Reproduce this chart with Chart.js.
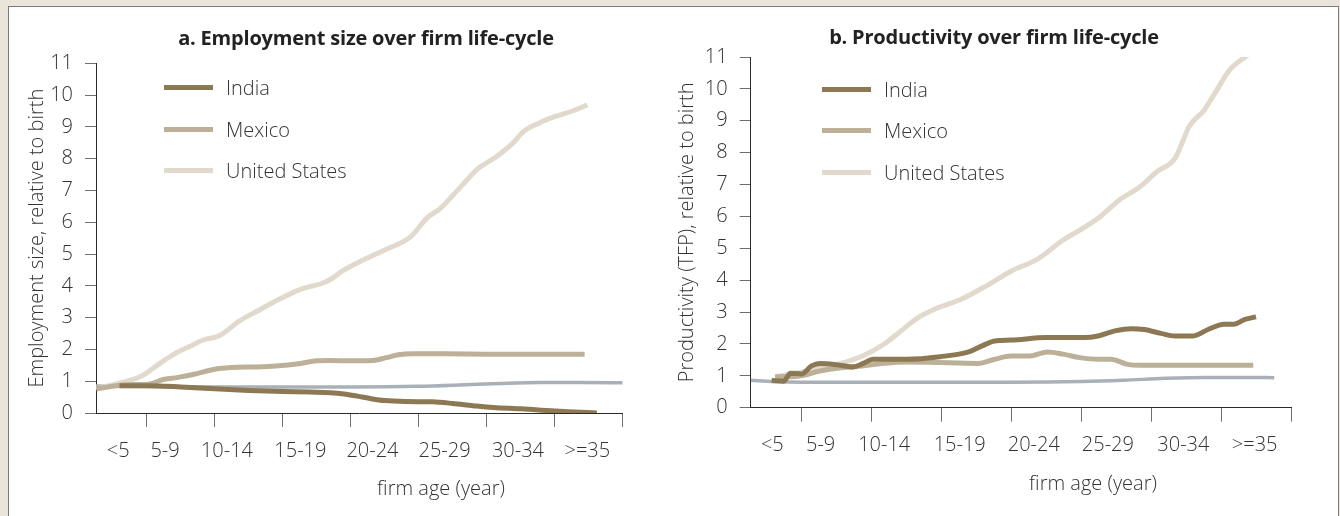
<!DOCTYPE html>
<html lang="en">
<head>
<meta charset="UTF-8">
<title>Employment size and productivity over firm life-cycle</title>
<script src="https://cdn.jsdelivr.net/npm/chart.js"></script>
<style>
  body {
    margin: 0;
    width: 1340px;
    height: 516px;
    overflow: hidden;
    position: relative;
    background: #ebe4da;
    font-family: 'Open Sans', sans-serif;
    color: #2e2e2e;
  }
  #frame {
    position: absolute;
    left: 8px;
    top: 6px;
    width: 1331px;
    height: 540px;
    box-sizing: border-box;
    background: #fff;
    border: 1px solid #7b7b7b;
  }
  .panel { position: absolute; top: 7px; height: 509px; }
  #pa { left: 9px; width: 661px; }
  #pb { left: 670px; width: 667px; }
  .ttl {
    position: absolute;
    width: 600px;
    text-align: center;
    font-weight: 700;
    font-size: 20px;
    line-height: 22px;
    color: #222;
    white-space: nowrap;
    letter-spacing: -0.2px;
  }
  .xttl {
    position: absolute;
    width: 300px;
    text-align: center;
    font-weight: 300;
    font-size: 20px;
    line-height: 24px;
    color: #333;
  }
  .legend { position: absolute; font-weight: 300; font-size: 20px; color: #333; }
  .legend .item { display: flex; align-items: center; height: 41.5px; white-space: nowrap; }
  .legend .swatch { display: inline-block; width: 49px; height: 5px; margin-right: 13px; }
</style>
</head>
<body>
<div id="frame"></div>
<div class="panel" id="pa"><canvas id="chartA"></canvas></div>
<div class="panel" id="pb"><canvas id="chartB"></canvas></div>

<div class="ttl" style="left:66px; top:27px;">a. Employment size over firm life-cycle</div>
<div class="ttl" style="left:694px; top:26px;">b. Productivity over firm life-cycle</div>
<div class="xttl" style="left:291px; top:476px;">firm age (year)</div>
<div class="xttl" style="left:943px; top:471px;">firm age (year)</div>
<div class="legend" id="legA" style="left:164px; top:67px;"></div>
<div class="legend" id="legB" style="left:822px; top:68.5px;"></div>

<script>
// x values are firm age in years, y values are relative to birth
const ageTicks = [5, 10, 15, 20, 25, 30, 35, 40];
const ageLabels = ['<5', '5-9', '10-14', '15-19', '20-24', '25-29', '30-34', '>=35'];
const valueTicks = [0, 1, 2, 3, 4, 5, 6, 7, 8, 9, 10, 11];
const seriesNames = ['India', 'Mexico', 'United States'];

// a. employment size
const empAgeIndia = [3.0, 5.0, 7.5, 10, 12.5, 15, 17, 18.5, 19.5, 20.5, 21.5, 22.5, 24, 26, 27.5, 29, 30.5, 32.5, 34, 36, 38.1];
const empIndia = [0.86, 0.86, 0.82, 0.76, 0.71, 0.68, 0.66, 0.64, 0.6, 0.53, 0.45, 0.39, 0.36, 0.35, 0.3, 0.23, 0.17, 0.13, 0.09, 0.04, 0.0];
const empAgeMexico = [1.3, 2.5, 3.5, 5.0, 5.5, 6.1, 7.3, 8.5, 9.9, 11.2, 13.1, 14.5, 16.3, 17.5, 18.5, 20.0, 21.6, 22.6, 23.5, 24.5, 27, 30, 34, 37.2];
const empMexico = [0.76, 0.84, 0.89, 0.9, 0.94, 1.04, 1.12, 1.22, 1.37, 1.43, 1.45, 1.48, 1.56, 1.64, 1.65, 1.64, 1.65, 1.74, 1.83, 1.86, 1.86, 1.85, 1.85, 1.85];
const empAgeUS = [1.3, 2.2, 3.3, 4.5, 5.2, 6.1, 7.2, 8.2, 9.3, 10.1, 10.6, 11.8, 13.1, 14.7, 16.3, 17.1, 17.7, 18.5, 19.4, 20.9, 22.5, 24.4, 25.6, 26.6, 28.1, 29.4, 30.7, 31.9, 32.7, 33.8, 35.0, 36.3, 37.4];
const empUS = [0.75, 0.86, 0.97, 1.14, 1.32, 1.6, 1.9, 2.1, 2.32, 2.39, 2.5, 2.89, 3.2, 3.57, 3.89, 3.99, 4.05, 4.2, 4.47, 4.81, 5.13, 5.54, 6.13, 6.44, 7.12, 7.7, 8.06, 8.48, 8.85, 9.11, 9.32, 9.5, 9.69];
const empAgeBase = [1.27, 5, 10, 15, 20, 25, 28, 31, 34, 37, 40];
const empBase = [0.85, 0.83, 0.82, 0.82, 0.82, 0.84, 0.88, 0.93, 0.96, 0.96, 0.95];

// b. productivity (TFP)
const prodAgeIndia = [2.85, 3.7, 4.2, 5.0, 5.7, 6.3, 7.5, 8.7, 9.4, 10.1, 12.5, 14.9, 17.0, 17.9, 18.8, 20.0, 22.5, 23.7, 25.2, 26.2, 27.4, 28.6, 29.5, 30.7, 31.7, 33.0, 34.1, 35.2, 35.9, 36.7, 37.5];
const prodIndia = [0.85, 0.83, 1.08, 1.06, 1.31, 1.39, 1.35, 1.28, 1.39, 1.52, 1.52, 1.6, 1.76, 1.94, 2.09, 2.12, 2.2, 2.2, 2.2, 2.25, 2.41, 2.48, 2.45, 2.33, 2.25, 2.25, 2.46, 2.62, 2.62, 2.77, 2.85];
const prodAgeMexico = [3.1, 4.76, 6.3, 7.8, 9.3, 10.9, 12.4, 15.5, 17.6, 18.8, 20.0, 21.3, 22.6, 23.7, 24.9, 26.2, 27.1, 28.3, 29.2, 33, 37.3];
const prodMexico = [0.97, 0.99, 1.15, 1.25, 1.31, 1.39, 1.43, 1.41, 1.39, 1.52, 1.62, 1.62, 1.75, 1.68, 1.57, 1.52, 1.52, 1.36, 1.33, 1.33, 1.33];
const prodAgeUS = [3.1, 4.76, 6.28, 7.8, 9.34, 10.87, 12.1, 13.3, 14.5, 16.4, 18.2, 20.0, 21.9, 23.7, 24.9, 26.2, 27.7, 29.2, 30.4, 31.7, 32.3, 32.7, 33.8, 34.7, 35.6, 37.0];
const prodUS = [0.97, 1.1, 1.25, 1.39, 1.62, 1.99, 2.41, 2.82, 3.09, 3.4, 3.82, 4.29, 4.67, 5.26, 5.57, 5.94, 6.51, 6.93, 7.4, 7.82, 8.4, 8.81, 9.34, 9.97, 10.59, 11.09];
const prodAgeBase = [1.35, 3, 5, 10, 15, 20, 25, 28, 31, 34, 37, 38.8];
const prodBase = [0.86, 0.82, 0.8, 0.8, 0.8, 0.8, 0.82, 0.86, 0.92, 0.95, 0.95, 0.94];

const colors = ['#8c7853', '#bcb098', '#e0d9cc'];
const baseColor = '#aab0b7';
const textColor = '#333';
const tickFont = { family: "'Open Sans', sans-serif", size: 20, weight: '300' };

// where the category names sit along the age axis
const labelCentres = [2.9, 6.35, 10.9, 16.3, 21.6, 26.9, 32.3, 37.4];

function lineSet(label, ages, values, color, width) {
    return {
        label: label,
        data: ages.map((a, i) => ({ x: a, y: values[i] })),
        borderColor: color,
        borderWidth: width,
        pointRadius: 0,
        fill: false,
        cubicInterpolationMode: 'monotone',
        borderJoinStyle: 'round'
    };
}

function buildChart(id, p) {
    return new Chart(document.getElementById(id), {
        type: 'line',
        data: {
            datasets: [
                lineSet(seriesNames[0], p.ageIndia, p.india, colors[0], 5),
                lineSet(seriesNames[1], p.ageMexico, p.mexico, colors[1], 5),
                lineSet(seriesNames[2], p.ageUS, p.us, colors[2], 5),
                lineSet('base', p.ageBase, p.base, baseColor, 3.5)
            ]
        },
        options: {
            responsive: true,
            maintainAspectRatio: false,
            animation: false,
            layout: { padding: { left: 0, top: p.padTop, right: p.padRight, bottom: p.padBottom } },
            plugins: { legend: { display: false }, title: { display: false }, tooltip: { enabled: false } },
            scales: {
                x: {
                    type: 'linear', position: 'bottom', weight: 0,
                    min: p.ageMin, max: 40,
                    afterBuildTicks: s => { s.ticks = ageTicks.map(v => ({ value: v })); },
                    afterFit: s => { s.height = 14; },
                    ticks: { display: false },
                    grid: { drawOnChartArea: false, drawTicks: true, tickLength: 14, color: '#6f6f6f' },
                    border: { display: true, color: '#2a2a2a', width: 1 }
                },
                xl: {
                    type: 'linear', position: 'bottom', weight: 1,
                    min: p.ageMin, max: 40,
                    afterBuildTicks: s => { s.ticks = labelCentres.map(v => ({ value: v })); },
                    afterFit: s => { s.height = 40; },
                    ticks: {
                        autoSkip: false, maxRotation: 0, padding: 4,
                        color: textColor, font: tickFont,
                        callback: (v, i) => ageLabels[i]
                    },
                    grid: { display: false },
                    border: { display: false }
                },
                y: {
                    min: 0, max: 11,
                    afterBuildTicks: s => { s.ticks = valueTicks.map(v => ({ value: v })); },
                    afterFit: s => { s.width = p.yWidth; },
                    ticks: { padding: 12, color: textColor, font: tickFont },
                    grid: { drawOnChartArea: false, tickLength: 11, color: '#6f6f6f' },
                    border: { color: '#2a2a2a' },
                    title: {
                        display: true, text: p.yTitle, color: textColor, font: tickFont,
                        padding: { top: p.yTitlePad, bottom: 0 }
                    }
                }
            }
        }
    });
}

function buildLegend(id) {
    const box = document.getElementById(id);
    seriesNames.forEach((name, i) => {
        const row = document.createElement('div');
        row.className = 'item';
        const sw = document.createElement('span');
        sw.className = 'swatch';
        sw.style.background = colors[i];
        row.appendChild(sw);
        row.appendChild(document.createTextNode(name));
        box.appendChild(row);
    });
}

buildChart('chartA', {
    ageIndia: empAgeIndia, india: empIndia,
    ageMexico: empAgeMexico, mexico: empMexico,
    ageUS: empAgeUS, us: empUS,
    ageBase: empAgeBase, base: empBase,
    ageMin: 1.27,
    padTop: 56.3, padRight: 47.3, padBottom: 49,
    yWidth: 87, yTitlePad: 16,
    yTitle: 'Employment size, relative to birth'
});

buildChart('chartB', {
    ageIndia: prodAgeIndia, india: prodIndia,
    ageMexico: prodAgeMexico, mexico: prodMexico,
    ageUS: prodAgeUS, us: prodUS,
    ageBase: prodAgeBase, base: prodBase,
    ageMin: 1.35,
    padTop: 50, padRight: 46, padBottom: 54.3,
    yWidth: 80.7, yTitlePad: 5,
    yTitle: 'Productivity (TFP), relative to birth'
});

buildLegend('legA');
buildLegend('legB');
</script>
</body>
</html>
